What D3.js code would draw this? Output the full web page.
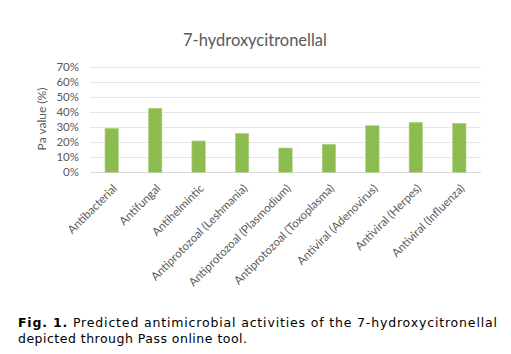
<!DOCTYPE html>
<html>
<head>
<meta charset="utf-8">
<script src="https://cdn.jsdelivr.net/npm/d3@7"></script>
<style>
  body { margin: 0; background: #fff; }
</style>
</head>
<body>
<div id="chart"></div>
<script>
let w = 511;
let h = 354;
let margin = {top: 67, right: 30, bottom: 182, left: 90};
let chartFont = 'Lato, Carlito, Liberation Sans, sans-serif';

let activities = ['Antibacterial', 'Antifungal', 'Antihelmintic', 'Antiprotozoal (Leshmania)',
    'Antiprotozoal (Plasmodium)', 'Antiprotozoal (Toxoplasma)', 'Antiviral (Adenovirus)',
    'Antiviral (Herpes)', 'Antiviral (Influenza)'];
let paValues = [0.293, 0.427, 0.209, 0.26, 0.162, 0.187, 0.311, 0.333, 0.327];
let yTicks = [0, 0.1, 0.2, 0.3, 0.4, 0.5, 0.6, 0.7];

let svg = d3.select('#chart')
    .append('svg')
    .attr('width', w)
    .attr('height', h);

let xScale = d3.scaleBand()
    .domain(activities)
    .range([margin.left, 481])
    .paddingInner(0.69)
    .paddingOuter(0.345);

let yScale = d3.scaleLinear()
    .domain([0, 0.7])
    .range([172.3, 67.3]);

// gridlines
svg.append('g')
    .selectAll('line')
    .data(yTicks)
    .enter()
    .append('line')
    .attr('x1', margin.left)
    .attr('x2', 481)
    .attr('y1', d => Math.round(yScale(d)) + 0.5)
    .attr('y2', d => Math.round(yScale(d)) + 0.5)
    .attr('stroke', d => d === 0 ? '#d9d9d9' : '#e6e6e6')
    .attr('stroke-width', 1);

let yAxis = d3.axisLeft(yScale)
    .tickValues(yTicks)
    .tickFormat(d3.format('.0%'))
    .tickSize(0)
    .tickPadding(11);

svg.append('g')
    .attr('transform', 'translate(' + margin.left + ',0)')
    .call(yAxis)
    .call(g => g.select('.domain').remove())
    .selectAll('text')
    .attr('fill', '#595959')
    .style('font-family', chartFont)
    .style('font-size', '11.5px');

svg.append('g')
    .selectAll('rect')
    .data(activities)
    .enter()
    .append('rect')
    .attr('x', d => xScale(d))
    .attr('y', (d, i) => yScale(paValues[i]))
    .attr('width', xScale.bandwidth())
    .attr('height', (d, i) => yScale(0) - yScale(paValues[i]))
    .attr('fill', '#8cbb4f')
    .attr('stroke', '#b5d58e')
    .attr('stroke-width', 0.6);

let xAxis = d3.axisBottom(xScale).tickSize(0);

svg.append('g')
    .attr('transform', 'translate(0,172)')
    .call(xAxis)
    .call(g => g.select('.domain').remove())
    .selectAll('text')
    .attr('fill', '#595959')
    .style('font-family', chartFont)
    .style('font-size', '11.5px')
    .style('text-anchor', 'end')
    .attr('dy', 0)
    .attr('y', 0)
    .attr('transform', 'translate(6,17) rotate(-45)');

svg.append('text')
    .attr('text-anchor', 'middle')
    .attr('x', 255)
    .attr('y', 46)
    .attr('fill', '#595959')
    .style('font-family', chartFont)
    .style('font-size', '16.5px')
    .text('7-hydroxycitronellal');

svg.append('text')
    .attr('text-anchor', 'middle')
    .attr('transform', 'translate(46,119) rotate(-90)')
    .attr('fill', '#595959')
    .style('font-family', chartFont)
    .style('font-size', '12px')
    .text('Pa value (%)');

// caption
let caption = svg.append('g')
    .style('font-family', 'DejaVu Sans, Verdana, sans-serif')
    .style('font-size', '12.5px')
    .attr('fill', '#000');

let line1 = caption.append('text')
    .attr('x', 18)
    .attr('y', 327)
    .attr('textLength', 479)
    .attr('lengthAdjust', 'spacing');
line1.append('tspan').style('font-weight', 'bold').text('Fig. 1.');
line1.append('tspan').text(' Predicted antimicrobial activities of the 7-hydroxycitronellal');

caption.append('text')
    .attr('x', 18)
    .attr('y', 343)
    .attr('textLength', 229)
    .attr('lengthAdjust', 'spacing')
    .text('depicted through Pass online tool.');
</script>
</body>
</html>
